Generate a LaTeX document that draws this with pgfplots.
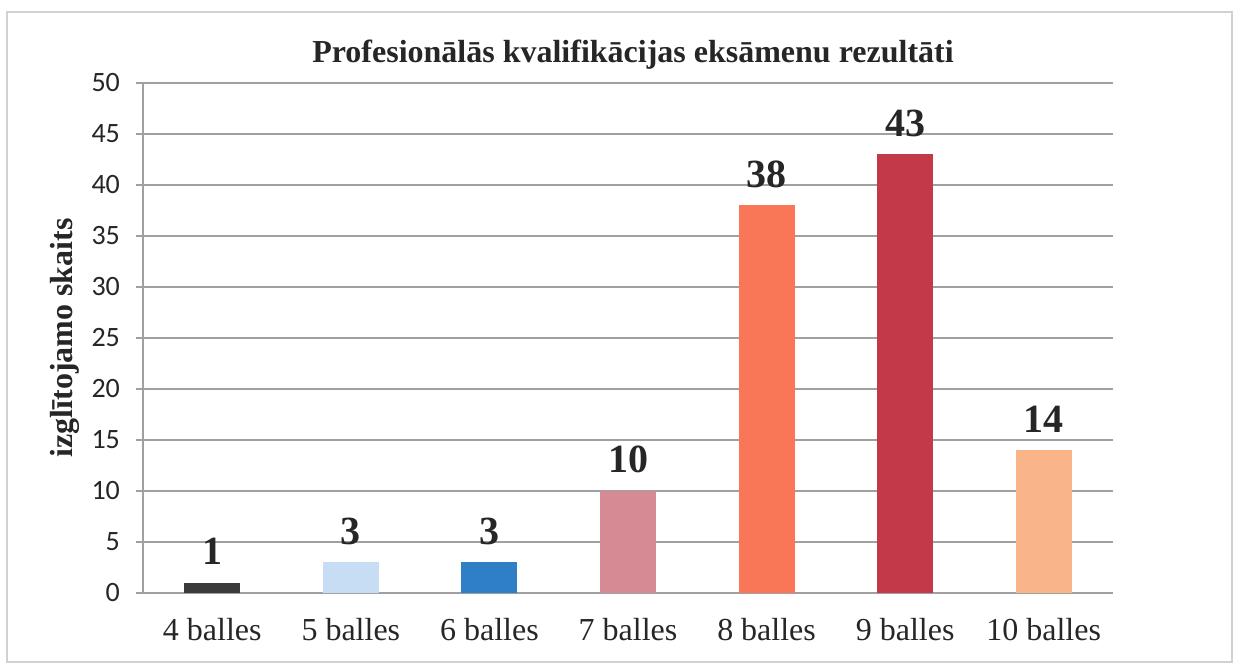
\documentclass[border=0pt]{standalone}
\usepackage{fontspec}
\setmainfont{Liberation Serif}
\newfontfamily\calibri{Carlito}
\usepackage{graphicx}
\usepackage{pgfplots}
\pgfplotsset{compat=1.18}
\definecolor{cA}{HTML}{3B3B3B}
\definecolor{cB}{HTML}{C6DDF4}
\definecolor{cC}{HTML}{2E7FC6}
\definecolor{cD}{HTML}{D68A93}
\definecolor{cE}{HTML}{F97756}
\definecolor{cF}{HTML}{C4394A}
\definecolor{cG}{HTML}{F9B48A}
\definecolor{gridc}{HTML}{A0A0A0}
\begin{document}
\begin{tikzpicture}[x=1pt,y=1pt]
\path[use as bounding box] (-71.5,-37) rectangle (550.5,296.5);
\draw[color=black!18, line width=0.8pt] (-68,-34.5) rectangle (544.5,290.5);
\begin{axis}[
  at={(0,0)}, anchor=south west,
  scale only axis, width=485pt, height=255pt,
  xmin=-0.5, xmax=6.5, ymin=0, ymax=50,
  enlargelimits=false,
  ytick={0,5,...,50},
  xtick={0,1,2,3,4,5,6},
  xticklabels={4 balles,5 balles,6 balles,7 balles,8 balles,9 balles,10 balles},
  ymajorgrids,
  grid style={gridc, line width=0.8pt},
  axis x line*=bottom, axis y line*=left,
  axis line style={gridc, line width=0.8pt, -},
  tick align=outside, major tick length=3.5pt,
  xtick style={draw=none},
  ytick style={gridc, line width=0.8pt},
  ybar, bar width=28pt, bar shift=0pt,
  nodes near coords,
  every node near coord/.append style={font=\fontsize{20}{24}\selectfont\bfseries, anchor=base, yshift=9pt, text=black!85, inner sep=0pt},
  /pgf/number format/assume math mode=true,
  yticklabel style={font=\calibri\fontsize{14}{17}\selectfont, text=black!85, xshift=-4.5pt},
  xticklabel style={font=\fontsize{16}{19}\selectfont, text=black!85, anchor=base, yshift=-20.5pt},
]
\addplot[fill=cA, draw=none] coordinates {(0,1)};
\addplot[fill=cB, draw=none] coordinates {(1,3)};
\addplot[fill=cC, draw=none] coordinates {(2,3)};
\addplot[fill=cD, draw=none] coordinates {(3,10)};
\addplot[fill=cE, draw=none] coordinates {(4,38)};
\addplot[fill=cF, draw=none] coordinates {(5,43)};
\addplot[fill=cG, draw=none] coordinates {(6,14)};
\end{axis}
\node[anchor=base, font=\fontsize{16}{19}\selectfont\bfseries, text=black!85] at (245,265) {Profesionālās kvalifikācijas eksāmenu rezultāti};
\node[rotate=90, font=\fontsize{16}{19}\selectfont\bfseries, text=black!85] at (-39,127.5) {izglītojamo skaits};
\end{tikzpicture}
\end{document}
